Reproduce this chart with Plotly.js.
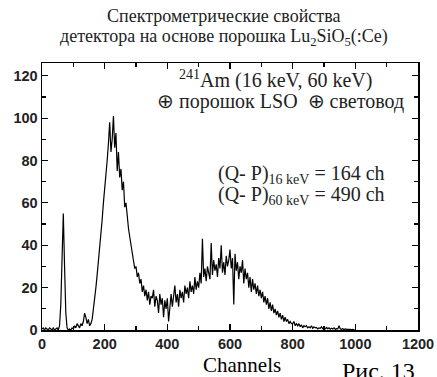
<!DOCTYPE html>
<html>
<head>
<meta charset="utf-8">
<script src="https://cdn.plot.ly/plotly-3.0.1.min.js"></script>
<style>html,body{margin:0;padding:0;background:#fff;}#chart{width:437px;height:377px;}</style>
</head>
<body>
<div id="chart"></div>
<script>
const STEP = 4; // channel spacing of the sampled spectrum
const counts = [
  // 0-96
  0.5,1,0,1,0.5,0,1,0.5,0,1,0,0.5,1,0,2,12,40,55,30,8,1,0,0.5,0,1,
  // 100-196
  0.5,2,1,3,2,1,3,2,4,8,6,3,5,2,3,5,10,14,20,26,32,40,46,52,60,
  // 200-296
  66,72,80,88,98,84,90,101,86,93,75,84,72,76,66,70,58,60,52,48,44,40,36,33,29,
  // 300-396
  30,25,27,22,24,18,21,16,19,14,18,12,16,15,19,11,16,14,8,17,12,15,6,14,10,
  // 400-496
  15,4,13,17,11,15,21,13,17,11,19,15,18,13,21,17,20,15,23,18,21,17,25,19,23,
  // 500-596
  20,27,22,43,25,29,23,30,27,24,41,26,33,28,31,25,34,29,40,27,32,26,35,30,33,
  // 600-696
  38,29,34,12,36,28,32,24,30,27,33,22,29,24,27,20,25,18,24,19,22,17,21,16,19,
  // 700-796
  15,18,13,16,12,15,10,13,9,12,8,10,7,9,6,8,5,7,4,6,4,5,3,4,3,
  // 800-896
  3,4,2,3,2,3,1.5,2.5,1,2,1.5,2,1,1.5,1,2,0.8,1.5,1,1.2,0.5,1,0.8,1.5,0.6,
  // 900-996
  1,0.5,1.2,0.6,1,0.4,0.8,0.5,1,0.3,0.6,0.5,2,0.5,0.3,0.6,0.2,0.5,0.3,0.4,0.2,0.3,0.1,0.3,0.1,
  // 1000
  0
];
const channels = counts.map((_, i) => i * STEP);

const titleLines = ['Спектрометрические свойства', 'детектора на основе порошка Lu<sub>2</sub>SiO<sub>5</sub>(:Ce)'];
const noteLines = [
  '<sup>241</sup>Am (16 keV, 60 keV)',
  '⊕ порошок LSO  ⊕ световод',
  '(Q- P)<sub>16 keV</sub> = 164 ch',
  '(Q- P)<sub>60 keV</sub> = 490 ch'
];
const xTitle = 'Channels';
const figLabel = 'Рис. 13';

const serif = '"Liberation Serif", "Times New Roman", serif';
const sans = '"Liberation Sans", Arial, sans-serif';

const trace = {
  x: channels, y: counts, type: 'scatter', mode: 'lines',
  line: {color: '#000', width: 1.2}, hoverinfo: 'skip'
};

const axisCommon = {
  showgrid: false, zeroline: false, showline: true, linecolor: '#000', linewidth: 1.5,
  ticks: 'inside', ticklen: 6, tickwidth: 1.2, tickcolor: '#000', mirror: 'ticks',
  tickfont: {family: sans, size: 14.5, color: '#222', weight: 'bold'}
};

function note(text, x, y, size, color) {
  return {text: text, xref: 'paper', yref: 'paper', x: x, y: y, xanchor: 'center', yanchor: 'middle',
          showarrow: false, font: {family: serif, size: size, color: color}};
}

const layout = {
  width: 437, height: 377,
  margin: {l: 42, r: 19, t: 63, b: 47},
  paper_bgcolor: '#fff', plot_bgcolor: '#fff',
  showlegend: false,
  xaxis: Object.assign({}, axisCommon, {
    range: [0, 1200], dtick: 200, tick0: 0,
    minor: {dtick: 100, ticklen: 4, tickwidth: 1.2, tickcolor: '#000', ticks: 'inside'}
  }),
  yaxis: Object.assign({}, axisCommon, {
    range: [0, 126], dtick: 20, tick0: 0,
    minor: {dtick: 10, ticklen: 4, tickwidth: 1.2, tickcolor: '#000', ticks: 'inside'}
  }),
  annotations: [
    note(titleLines[0], 0.484, 1.176, 18, '#222'),
    note(titleLines[1], 0.484, 1.097, 18, '#222'),
    note(noteLines[0], 0.622, 0.940, 20, '#222'),
    note(noteLines[1], 0.633, 0.854, 20, '#222'),
    note(noteLines[2], 0.689, 0.581, 20, '#222'),
    note(noteLines[3], 0.689, 0.504, 20, '#222'),
    note(xTitle, 0.532, -0.131, 21, '#000'),
    note(figLabel, 0.894, -0.155, 24, '#000')
  ]
};

Plotly.newPlot('chart', [trace], layout, {displayModeBar: false, staticPlot: true});
</script>
</body>
</html>
